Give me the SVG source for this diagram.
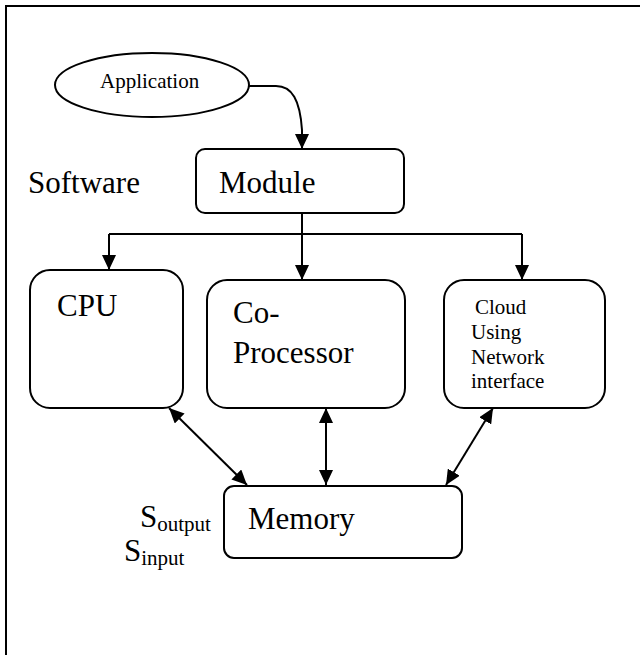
<svg xmlns="http://www.w3.org/2000/svg" width="640" height="655" viewBox="0 0 640 655" font-family="'Liberation Serif', 'Times New Roman', Times, 'DejaVu Serif', serif">
  <style>
    .box { fill: #fff; stroke: #000; stroke-width: 2; }
    .conn { fill: none; stroke: #000; stroke-width: 2; }
    text { font-family: 'Liberation Serif', 'Times New Roman', Times, 'DejaVu Serif', serif; fill: #000; }
    .big { font-size: 31px; }
    .small { font-size: 21px; }
  </style>
  <defs>
    <marker id="ah" markerUnits="userSpaceOnUse" markerWidth="15" markerHeight="14" refX="15" refY="7" orient="auto-start-reverse">
      <path d="M0,0 L15,7 L0,14 z" fill="#000"/>
    </marker>
  </defs>
  <rect width="640" height="655" fill="#fff"/>
  <g id="frame">
    <path d="M6,660 L6,6 L640,6" fill="none" stroke="#000" stroke-width="2"/>
  </g>

  <g id="connectors">
    <path class="conn" d="M249,86 L276,86 C292,86 300,100 302,130 L302,149" marker-end="url(#ah)"/>
    <path class="conn" d="M302,213 L302,280" marker-end="url(#ah)"/>
    <path class="conn" d="M109,234 L522,234"/>
    <path class="conn" d="M109,234 L109,270" marker-end="url(#ah)"/>
    <path class="conn" d="M522,234 L522,280" marker-end="url(#ah)"/>
    <path class="conn" d="M169,408 L247,485" marker-start="url(#ah)" marker-end="url(#ah)"/>
    <path class="conn" d="M326,408 L326,485" marker-start="url(#ah)" marker-end="url(#ah)"/>
    <path class="conn" d="M493,408 L446,485" marker-start="url(#ah)" marker-end="url(#ah)"/>
  </g>

  <g id="application">
    <ellipse class="box" cx="152" cy="85" rx="97" ry="32"/>
    <text class="small" x="100" y="88">Application</text>
  </g>

  <g id="software-label">
    <text class="big" x="28" y="193">Software</text>
  </g>

  <g id="module">
    <rect class="box" x="196" y="149" width="208" height="64" rx="9"/>
    <text class="big" x="219" y="193">Module</text>
  </g>

  <g id="cpu">
    <rect class="box" x="30" y="270" width="153" height="138" rx="20"/>
    <text class="big" x="57" y="316">CPU</text>
  </g>

  <g id="coprocessor">
    <rect class="box" x="207" y="280" width="198" height="128" rx="20"/>
    <text class="big" x="233" y="323">Co-</text>
    <text class="big" x="233" y="363">Processor</text>
  </g>

  <g id="cloud">
    <rect class="box" x="444" y="280" width="161" height="128" rx="20"/>
    <text class="small" x="475" y="314">Cloud</text>
    <text class="small" x="471" y="339">Using</text>
    <text class="small" x="471" y="364">Network</text>
    <text class="small" x="471" y="388">interface</text>
  </g>

  <g id="memory">
    <rect class="box" x="224" y="486" width="238" height="72" rx="10"/>
    <text class="big" x="248" y="529">Memory</text>
  </g>

  <g id="signals">
    <text class="big" x="140" y="527">S<tspan class="small" dy="4">output</tspan></text>
    <text class="big" x="124" y="561">S<tspan class="small" dy="4">input</tspan></text>
  </g>
</svg>
